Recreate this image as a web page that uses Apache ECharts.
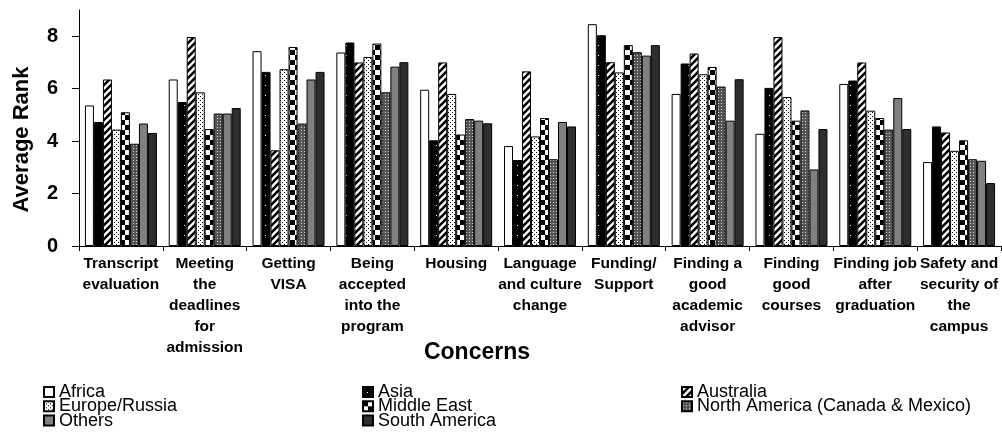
<!DOCTYPE html>
<html><head><meta charset="utf-8">
<script src="https://cdn.jsdelivr.net/npm/echarts@6/dist/echarts.min.js"></script>
<style>html,body{margin:0;padding:0;background:#fff}#c{width:1002px;height:437px}</style>
</head><body><div id="c"></div><script>
const categories = ['Transcript\nevaluation','Meeting\nthe\ndeadlines\nfor\nadmission','Getting\nVISA','Being\naccepted\ninto the\nprogram','Housing','Language\nand culture\nchange','Funding/\nSupport','Finding a\ngood\nacademic\nadvisor','Finding\ngood\ncourses','Finding job\nafter\ngraduation','Safety and\nsecurity of\nthe\ncampus'];
const seriesNames = ['Africa','Asia','Australia','Europe/Russia','Middle East','North America (Canada & Mexico)','Others','South America'];
const africa    = [5.36,6.35,7.43,7.38,5.96,3.81,8.46,5.80,4.28,6.18,3.20];
const asia      = [4.73,5.49,6.64,7.76,4.03,3.28,8.04,6.96,6.03,6.31,4.56];
const australia = [6.35,7.97,3.65,7.00,7.00,6.66,7.01,7.34,7.97,7.00,4.33];
const europe    = [4.44,5.86,6.74,7.21,5.80,4.18,6.62,6.55,5.68,5.16,3.63];
const middleEast= [5.10,4.46,7.59,7.72,4.25,4.88,7.66,6.83,4.78,4.88,4.03];
const northAm   = [3.90,5.05,4.67,5.86,4.84,3.31,7.39,6.08,5.17,4.44,3.31];
const others    = [4.67,5.05,6.35,6.84,4.78,4.73,7.26,4.78,2.92,5.64,3.25];
const southAm   = [4.31,5.26,6.64,7.01,4.68,4.56,7.66,6.36,4.46,4.46,2.40];
const yTicks = [0,2,4,6,8];
const seriesData = [africa,asia,australia,europe,middleEast,northAm,others,southAm];

function pat(w,h,draw){const c=document.createElement('canvas');c.width=w;c.height=h;const g=c.getContext('2d');draw(g,w,h);return {image:c,repeat:'repeat'};}
const fills = [
  '#ffffff',
  pat(9,10,(g,w,h)=>{g.fillStyle='#000';g.fillRect(0,0,w,h);g.fillStyle='#fff';g.fillRect(4,5,1,1);}),
  pat(7,7,(g,w,h)=>{g.fillStyle='#fff';g.fillRect(0,0,w,h);g.strokeStyle='#000';g.lineWidth=2.6;g.beginPath();g.moveTo(-1,8);g.lineTo(8,-1);g.moveTo(-2,2);g.lineTo(2,-2);g.moveTo(5,9);g.lineTo(9,5);g.stroke();}),
  pat(4,4,(g,w,h)=>{g.fillStyle='#fff';g.fillRect(0,0,w,h);g.fillStyle='#000';g.fillRect(0,0,1,1);g.fillRect(2,2,1,1);}),
  pat(10,10,(g,w,h)=>{g.fillStyle='#fff';g.fillRect(0,0,w,h);g.fillStyle='#000';g.fillRect(0,0,5,5);g.fillRect(5,5,5,5);}),
  pat(3,3,(g,w,h)=>{g.fillStyle='#555';g.fillRect(0,0,w,h);g.fillStyle='#d8d8d8';g.fillRect(1,1,1,1);}),
  '#808080',
  '#2e2e2e'
];
const FONT = 'Liberation Sans, Arial, sans-serif';
const series = seriesNames.map((n,i)=>({
  name:n, type:'bar', data:seriesData[i], barWidth:9, barGap:'0%',
  itemStyle:{color:fills[i], borderColor:'#000', borderWidth:1},
  emphasis:{disabled:true}, animation:false
}));
function legend(left, names){
  return {orient:'vertical', left:left, top:383, height:200, padding:0, itemGap:-3.7, itemWidth:10, itemHeight:10, icon:'rect',
    data:names, selectedMode:false,
    textStyle:{fontFamily:FONT, fontSize:18, color:'#000'}};
}
const chart = echarts.init(document.getElementById('c'), null, {renderer:'canvas'});
chart.setOption({
  animation:false,
  backgroundColor:'#fff',
  grid:{left:79, right:1, top:10, bottom:191, containLabel:false},
  legend:[legend(43,[seriesNames[0],seriesNames[3],seriesNames[6]]), legend(362,[seriesNames[1],seriesNames[4],seriesNames[7]]), legend(681,[seriesNames[2],seriesNames[5]])],
  xAxis:{type:'category', data:categories,
    axisLine:{lineStyle:{color:'#000',width:1}},
    axisTick:{show:true, interval:0, length:5, lineStyle:{color:'#000'}},
    axisLabel:{interval:0, margin:7, fontFamily:FONT, fontWeight:'bold', fontSize:15.5, lineHeight:21, color:'#000'}},
  yAxis:{type:'value', min:0, max:9,
    axisLine:{show:true, lineStyle:{color:'#000',width:1}},
    axisTick:{show:true, length:7, customValues:yTicks, lineStyle:{color:'#000'}},
    axisLabel:{customValues:yTicks, margin:21, fontFamily:FONT, fontWeight:'bold', fontSize:20, color:'#000'},
    splitLine:{show:false}},
  graphic:[
    {type:'text', x:22, y:139.5, rotation:Math.PI/2, style:{text:'Average Rank', fontFamily:FONT, fontWeight:'bold', fontSize:22, fill:'#000', textAlign:'center', textVerticalAlign:'middle'}},
    {type:'text', x:477, y:353, style:{text:'Concerns', fontFamily:FONT, fontWeight:'bold', fontSize:23, fill:'#000', textAlign:'center', textVerticalAlign:'middle'}}
  ],
  series:series
});
</script></body></html>
